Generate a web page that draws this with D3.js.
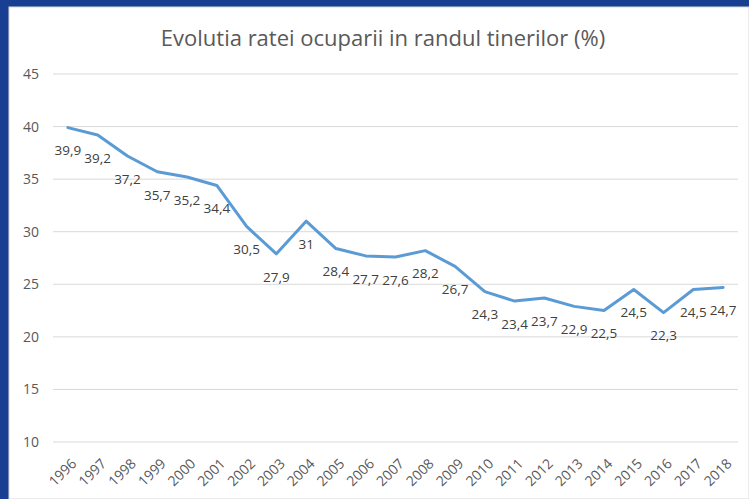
<!DOCTYPE html>
<html>
<head>
<meta charset="utf-8">
<script src="https://cdn.jsdelivr.net/npm/d3@7"></script>
<style>
  body { margin: 0; background: #183f92; }
  svg { display: block; }
</style>
</head>
<body>
<svg id="chart"></svg>
<script>
// data
const years = ["1996", "1997", "1998", "1999", "2000", "2001", "2002", "2003", "2004", "2005", "2006",
  "2007", "2008", "2009", "2010", "2011", "2012", "2013", "2014", "2015", "2016", "2017", "2018"];
const rates = [39.9, 39.2, 37.2, 35.7, 35.2, 34.4, 30.5, 27.9, 31, 28.4, 27.7,
  27.6, 28.2, 26.7, 24.3, 23.4, 23.7, 22.9, 22.5, 24.5, 22.3, 24.5, 24.7];
const yTicks = [10, 15, 20, 25, 30, 35, 40, 45];

let width = 749,
  height = 499;
let margin = { top: 74, bottom: 57, left: 53, right: 11 };

let svg = d3.select("#chart").attr("width", width).attr("height", height);

// blue frame + white chart area
svg.append("rect").attr("width", width).attr("height", height).attr("fill", "#183f92");
svg.append("rect").attr("x", 9).attr("y", 7).attr("width", width - 9).attr("height", height - 7)
  .attr("fill", "#ffffff").attr("stroke", "#d9d9d9").attr("stroke-width", 1);

let xScale = d3.scaleBand()
  .domain(years)
  .range([margin.left, width - margin.right]);

let yScale = d3.scaleLinear()
  .domain([10, 45])
  .range([height - margin.bottom, margin.top]);

// gridlines
svg.append("g")
  .selectAll("line")
  .data(yTicks)
  .enter()
  .append("line")
  .attr("x1", xScale.range()[0])
  .attr("x2", xScale.range()[1])
  .attr("y1", d => yScale(d))
  .attr("y2", d => yScale(d))
  .attr("stroke", "#d9d9d9")
  .attr("stroke-width", 1);

// y axis
let yAxis = svg.append("g")
  .attr("transform", `translate(${margin.left}, 0)`)
  .call(d3.axisLeft(yScale).tickValues(yTicks).tickSize(0).tickPadding(14));
yAxis.select(".domain").remove();
yAxis.selectAll("text")
  .attr("font-family", "Open Sans, sans-serif")
  .attr("font-size", "14px")
  .attr("fill", "#595959");

// x axis
let xAxis = svg.append("g")
  .attr("transform", `translate(0, ${height - margin.bottom})`)
  .call(d3.axisBottom(xScale).tickSize(0));
xAxis.select(".domain").remove();
xAxis.selectAll("text")
  .attr("font-family", "Open Sans, sans-serif")
  .attr("font-size", "14px")
  .attr("fill", "#595959")
  .attr("text-anchor", "end")
  .attr("dy", "0.35em")
  .attr("transform", "translate(6, 19) rotate(-45)")
  .attr("y", 0)
  .attr("x", 0);

// line
let line = d3.line()
  .x((d, i) => xScale(years[i]) + xScale.bandwidth() / 2)
  .y(d => yScale(d));

svg.append("path")
  .datum(rates)
  .attr("d", line)
  .attr("fill", "none")
  .attr("stroke", "#5b9bd5")
  .attr("stroke-width", 3)
  .attr("stroke-linejoin", "round")
  .attr("stroke-linecap", "round");

// data labels below points
svg.selectAll(".label")
  .data(rates)
  .enter()
  .append("text")
  .attr("class", "label")
  .attr("x", (d, i) => xScale(years[i]) + xScale.bandwidth() / 2)
  .attr("y", d => yScale(d) + 23)
  .attr("dy", "0.35em")
  .attr("text-anchor", "middle")
  .attr("font-family", "Open Sans, sans-serif")
  .attr("font-size", "13.5px")
  .attr("fill", "#404040")
  .text(d => String(d).replace(".", ","));

// title
svg.append("text")
  .attr("x", 383)
  .attr("y", 38)
  .attr("dy", "0.35em")
  .attr("text-anchor", "middle")
  .attr("font-family", "Open Sans, sans-serif")
  .attr("font-size", "22px")
  .attr("fill", "#595959")
  .text("Evolutia ratei ocuparii in randul tinerilor (%)");
</script>
</body>
</html>
